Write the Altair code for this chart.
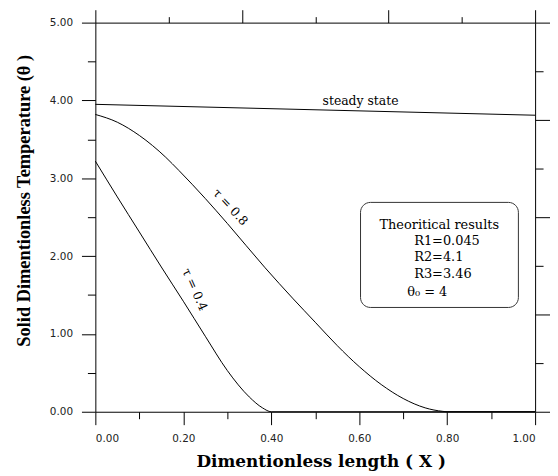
import altair as alt
import pandas as pd

# ---- data ----
x_tau04 = [0.0, 0.05, 0.10, 0.15, 0.20, 0.25, 0.30, 0.35, 0.38, 0.40, 1.0]
y_tau04 = [3.22, 2.76, 2.31, 1.86, 1.42, 0.97, 0.53, 0.19, 0.05, 0.0, 0.0]

x_tau08 = [0.0, 0.05, 0.10, 0.16, 0.19, 0.25, 0.30, 0.386, 0.45, 0.50, 0.55, 0.60, 0.65, 0.70, 0.75, 0.79, 0.80, 1.0]
y_tau08 = [3.82, 3.72, 3.55, 3.27, 3.10, 2.74, 2.42, 1.85, 1.45, 1.15, 0.85, 0.58, 0.35, 0.17, 0.05, 0.005, 0.0, 0.0]

x_steady = [0.0, 1.0]
y_steady = [3.95, 3.81]

curve_labels = ["\u03c4 = 0.8", "\u03c4 = 0.4", "steady state"]
curve_label_x = [0.307, 0.226, 0.603]
curve_label_y = [2.63, 1.57, 3.99]
curve_label_angle = [47, 66, 0]

legend_lines = ["Theoritical results", "R1=0.045", "R2=4.1", "R3=3.46", "\u03b8\u2080 = 4"]
legend_x = [0.646, 0.725, 0.725, 0.725, 0.709]
legend_y = [2.35, 2.14, 1.94, 1.72, 1.49]

box_x = [0.603]
box_x2 = [0.962]
box_y = [2.69]
box_y2 = [1.34]

x_major = [0.0, 0.2, 0.4, 0.6, 0.8, 1.0]
x_minor = [0.1, 0.3, 0.5, 0.7, 0.9]
x_top_major = [0.0, 1 / 3, 2 / 3, 1.0]
x_top_minor = [1 / 6, 0.5, 5 / 6]
y_major = [0.0, 1.0, 2.0, 3.0, 4.0, 5.0]
y_minor = [0.5, 1.5, 2.5, 3.5, 4.5]
y_right_major = [0.0, 1.25, 2.5, 3.75, 5.0]
y_right_minor = [0.625, 1.875, 3.125, 4.375]

# ---- tables ----
rows = []
for name, xs_, ys_ in [("tau04", x_tau04, y_tau04), ("tau08", x_tau08, y_tau08), ("steady", x_steady, y_steady)]:
    for a, b in zip(xs_, ys_):
        rows.append({"series": name, "x": a, "y": b})
lines_df = pd.DataFrame(rows)
labels_df = pd.DataFrame({"label": curve_labels, "x": curve_label_x, "y": curve_label_y, "ang": curve_label_angle})
legend_df = pd.DataFrame({"label": legend_lines, "x": legend_x, "y": legend_y})
box_df = pd.DataFrame({"x": box_x, "x2": box_x2, "y": box_y, "y2": box_y2})

SERIF_WIDE = "DejaVu Serif"
SERIF = "Liberation Serif"
SANS = "DejaVu Sans"
xs = alt.Scale(domain=[0, 1], nice=False, zero=False)
ys = alt.Scale(domain=[0, 5], nice=False, zero=False)

common_axis = dict(grid=False, domainColor="black", tickColor="black", domainWidth=1, tickWidth=1)

ax_x_bottom = alt.Axis(orient="bottom", values=x_major, format=".2f", tickSize=13, labelPadding=9,
                       labelFont=SANS, labelFontSize=10.5, labelColor="#222",
                       title="Dimentionless length ( X )", titleFont=SERIF_WIDE, titleFontSize=17,
                       titleFontWeight="bold", titleColor="black", titleX=227, titleY=42,
                       titleAnchor="middle", **common_axis)
ax_x_bottom_minor = alt.Axis(orient="bottom", values=x_minor, labels=False, tickSize=7, title=None,
                             domain=False, **common_axis)
ax_x_top = alt.Axis(orient="top", values=x_top_major, labels=False, tickSize=13, title=None, **common_axis)
ax_x_top_minor = alt.Axis(orient="top", values=x_top_minor, labels=False, tickSize=6, title=None,
                          domain=False, **common_axis)

ax_y_left = alt.Axis(orient="left", values=y_major, format=".2f", tickSize=14, labelPadding=9,
                     labelFont=SANS, labelFontSize=10.5, labelColor="#222",
                     title="Solid Dimentionless Temperature (\u03b8 )", titleFont=SERIF, titleFontSize=18.5,
                     titleFontWeight="bold", titleColor="black", titleX=-62, titleY=179,
                     titleAnchor="middle", **common_axis)
ax_y_left_minor = alt.Axis(orient="left", values=y_minor, labels=False, tickSize=8, title=None,
                           domain=False, **common_axis)
ax_y_right = alt.Axis(orient="right", values=y_right_major, labels=False, tickSize=15, title=None, **common_axis)
ax_y_right_minor = alt.Axis(orient="right", values=y_right_minor, labels=False, tickSize=8, title=None,
                            domain=False, **common_axis)

lines = alt.Chart(lines_df).mark_line(color="black", strokeWidth=1, interpolate="monotone").encode(
    x=alt.X("x:Q", scale=xs, axis=ax_x_bottom),
    y=alt.Y("y:Q", scale=ys, axis=ax_y_left),
    detail="series:N",
)

curve_text = alt.Chart(labels_df).mark_text(font=SERIF_WIDE, fontSize=12.5, color="black", baseline="middle",
                                            align="center").encode(
    x=alt.X("x:Q", scale=xs, axis=ax_x_bottom_minor),
    y=alt.Y("y:Q", scale=ys, axis=ax_y_left_minor),
    text="label:N",
    angle=alt.Angle("ang:Q", scale=None),
)

box = alt.Chart(box_df).mark_rect(fill="white", stroke="#333", strokeWidth=1, cornerRadius=10).encode(
    x=alt.X("x:Q", scale=xs, axis=ax_x_top),
    x2="x2:Q",
    y=alt.Y("y:Q", scale=ys, axis=ax_y_right),
    y2="y2:Q",
)

legend_text = alt.Chart(legend_df).mark_text(font=SERIF_WIDE, fontSize=13, color="black", baseline="alphabetic",
                                             align="left").encode(
    x=alt.X("x:Q", scale=xs, axis=ax_x_top_minor),
    y=alt.Y("y:Q", scale=ys, axis=ax_y_right_minor),
    text="label:N",
)

chart = alt.layer(box, lines, curve_text, legend_text).resolve_axis(
    x="independent", y="independent"
).properties(
    width=443, height=392,
    autosize=alt.AutoSizeParams(type="none"),
    padding={"left": 88, "top": 13, "right": 15, "bottom": 62},
    background="white",
).configure_view(stroke=None)

chart.save("out.html", embed_options={"renderer": "svg", "actions": False})
